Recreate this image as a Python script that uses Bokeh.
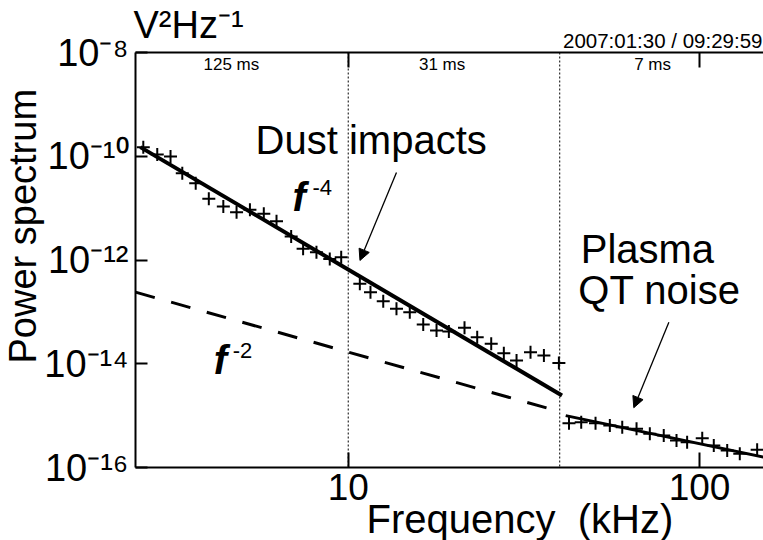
from bokeh.plotting import figure
from bokeh.models import (Label, Span, Arrow, NormalHead, LogAxis, FixedTicker,
                          CustomJSTickFormatter, Range1d, Title)
from bokeh.embed import file_html
from bokeh.resources import INLINE

# ---------------- data ----------------
# 125 ms band
band1_f = [2.61, 2.86, 3.12, 3.37, 3.68, 4.01, 4.41, 4.81, 5.25, 5.75, 6.25, 6.88, 7.44, 8.12, 8.86, 9.55]
band1_p = [1.49e-10, 1.08e-10, 9.9e-11, 4.71e-11, 3.02e-11, 1.51e-11, 1.07e-11, 8.34e-12,
           9.29e-12, 7.78e-12, 5.6e-12, 2.84e-12, 1.64e-12, 1.41e-12, 1.05e-12, 1.13e-12]
# 31 ms band
band2_f = [10.79, 11.57, 12.58, 13.72, 14.97, 16.35, 17.84, 19.34, 21.43, 23.29, 25.53, 27.73,
           30.14, 33.03, 36.06, 39.78]
band2_p = [3.48e-13, 2.39e-13, 1.61e-13, 1.15e-13, 9.86e-14, 5.71e-14, 4.38e-14, 4.19e-14,
           4.93e-14, 3.25e-14, 2.43e-14, 1.60e-14, 1.16e-14, 1.67e-14, 1.44e-14, 1.03e-14]
# 7 ms band
band3_f = [42.5, 46.05, 50.58, 55.55, 60.26, 66.18, 72.2, 79.1, 86.0, 92.2, 101.8, 109.8, 119.9, 130.2, 145.9]
band3_p = [7.14e-16, 7.46e-16, 7.14e-16, 6.46e-16, 5.98e-16, 5.57e-16, 4.47e-16, 4.14e-16,
           3.31e-16, 3.08e-16, 3.67e-16, 2.65e-16, 2.13e-16, 1.84e-16, 2.19e-16]

# fitted power laws (end points)
fit_f4_f = [2.56, 40.6]
fit_f4_p = [1.5e-10, 2.45e-15]
fit_f2_f = [2.48, 38.9]
fit_f2_p = [2.4e-13, 1.26e-15]
fit_qt_f = [41.6, 152.1]
fit_qt_p = [1.0e-15, 1.58e-16]

freq_range = (2.48, 152.1)
power_range = (1e-16, 1e-8)
band_edges = [10, 40]
band_labels = ["125 ms", "31 ms", "7 ms"]
band_label_f = [4.65, 18.5, 73.5]
x_ticks = [10, 100]
x_tick_labels = ["10", "100"]
y_ticks = [1e-8, 1e-10, 1e-12, 1e-14, 1e-16]
y_tick_labels = ["10\u207b\u2078", "10\u207b\u00b9\u2070", "10\u207b\u00b9\u00b2",
                 "10\u207b\u00b9\u2074", "10\u207b\u00b9\u2076"]
x_title = "Frequency \u00a0(kHz)"
y_title = "Power spectrum"
unit_text = "V\u00b2Hz\u207b\u00b9"
date_text = "2007:01:30 / 09:29:59"

X_MIN, X_MAX = freq_range
Y_MIN, Y_MAX = power_range
FONT = "Liberation Sans"

p = figure(width=763, height=540, x_axis_type="log", y_axis_type="log",
           x_range=Range1d(*freq_range), y_range=Range1d(*power_range),
           output_backend="svg", toolbar_location=None,
           min_border_left=135, min_border_right=0, min_border_top=52, min_border_bottom=73)
p.outline_line_color = None
p.grid.visible = False
p.background_fill_color = "white"
p.border_fill_color = "white"

label_code = """
for (let i = 0; i < tvals.length; i++) {
    if (Math.abs(Math.log10(tvals[i]) - Math.log10(tick)) < 1e-6) { return tlabels[i]; }
}
return '';
"""


def style_axis(ax, ticks, labels, tick_len, font_size, standoff):
    ax.ticker = FixedTicker(ticks=ticks)
    ax.formatter = CustomJSTickFormatter(args=dict(tvals=ticks, tlabels=labels), code=label_code)
    ax.major_tick_in = tick_len
    ax.major_tick_out = 0
    ax.minor_tick_line_color = None
    ax.axis_line_width = 2
    ax.major_tick_line_width = 2
    ax.axis_line_color = "black"
    ax.major_tick_line_color = "black"
    ax.major_label_text_font = FONT
    ax.major_label_text_font_size = font_size
    ax.major_label_text_color = "black"
    ax.major_label_standoff = standoff


style_axis(p.below[0], x_ticks, x_tick_labels, 15, "37px", 6)
style_axis(p.left[0], y_ticks, y_tick_labels, 12, "38px", 7)
top = LogAxis()
style_axis(top, x_ticks, ["", ""], 15, "1px", 0)
p.add_layout(top, "above")

# titles placed in the side panels
p.add_layout(Title(text=date_text, align="right", offset=1, vertical_align="bottom", standoff=1,
                   text_font=FONT, text_font_size="20.5px", text_font_style="normal",
                   text_color="black"), "above")
p.add_layout(Title(text=unit_text, align="left", offset=-2, vertical_align="bottom", standoff=-38,
                   text_font=FONT, text_font_size="38px", text_font_style="normal",
                   text_color="black"), "above")
p.add_layout(Title(text=x_title, align="left", offset=231, standoff=-16,
                   text_font=FONT, text_font_size="40px", text_font_style="normal",
                   text_color="black"), "below")
p.add_layout(Title(text=y_title, align="left", offset=104, standoff=-5,
                   text_font=FONT, text_font_size="38px", text_font_style="normal",
                   text_color="black"), "left")

# band separators
for e in band_edges:
    p.add_layout(Span(location=e, dimension="height", line_dash="2 2", line_width=1, line_color="black"))

# fits
p.line(fit_f4_f, fit_f4_p, line_width=4, line_color="black")
p.line(fit_f2_f, fit_f2_p, line_width=3, line_color="black", line_dash="20 17")
p.line(fit_qt_f, fit_qt_p, line_width=3, line_color="black")

# data
for fx, py in ((band1_f, band1_p), (band2_f, band2_p), (band3_f, band3_p)):
    p.scatter(fx, py, marker="cross", size=13, line_width=2, line_color="black")


def txt(x, y, s, size, xo=0, yo=0, align="left", style="normal"):
    # shift so that the anchor is the text's alphabetic baseline
    p.add_layout(Label(x=x, y=y, text=s, x_offset=xo, y_offset=yo + 0.34 * size, text_align=align,
                       text_baseline="alphabetic", text_font=FONT, text_font_size=f"{size}px",
                       text_font_style=style, text_color="black"))


# band labels
for f, s in zip(band_label_f, band_labels):
    txt(f, Y_MAX, s, 17, yo=-18, align="center")

# annotations
txt(5.45, 1.13e-10, "Dust impacts", 40)
txt(6.94, 9.0e-12, "f", 40, style="bold italic")
txt(6.94, 9.0e-12, "-4", 22, xo=20, yo=16)
txt(4.14, 6.49e-15, "f", 40, style="bold italic")
txt(4.14, 6.49e-15, "-2", 22, xo=19, yo=16)
txt(45.9, 8.95e-13, "Plasma", 40)
txt(45.2, 1.45e-13, "QT noise", 40)

p.add_layout(Arrow(end=NormalHead(size=11, fill_color="black", line_color="black", line_width=1),
                   x_start=13.72, y_start=4.86e-11, x_end=10.8, y_end=9.8e-13,
                   line_width=1.3, line_color="black"))
p.add_layout(Arrow(end=NormalHead(size=11, fill_color="black", line_color="black", line_width=1),
                   x_start=81.8, y_start=6.32e-14, x_end=65.0, y_end=1.42e-15,
                   line_width=1.3, line_color="black"))

open("out.html", "w").write(file_html(p, INLINE))
